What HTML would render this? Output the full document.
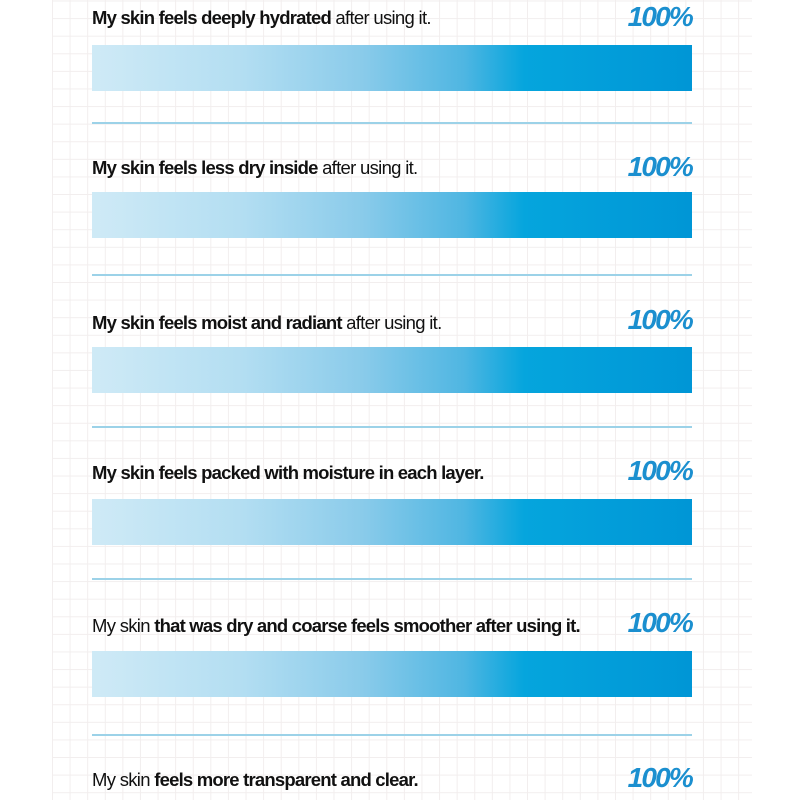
<!DOCTYPE html>
<html><head><style>
body{margin:0;width:800px;height:800px;overflow:hidden;background:#fff;font-family:"Liberation Sans",sans-serif;position:relative}
.grid{position:absolute;left:52px;top:0;width:700px;height:800px;
background-image:linear-gradient(to right,#f2eeee 1px,transparent 1px),linear-gradient(to bottom,#f2eeee 1px,transparent 1px);
background-size:17.6px 17.6px;background-position:0 0.5px}
.t{position:absolute;left:92px;font-size:18.5px;color:#111;letter-spacing:-0.7px;white-space:nowrap;font-weight:normal}
.t b{font-weight:bold;letter-spacing:-0.8px}
.p{position:absolute;left:612px;width:80px;text-align:right;font-size:28px;font-weight:bold;font-style:italic;color:#1b8fcf;letter-spacing:-1.8px}
.bar{position:absolute;left:92px;width:600px;height:46px;background:linear-gradient(to right,#cfeaf6 0%,#b3def2 25%,#8acbea 45%,#4fb6e2 62%,#05a5dd 72%,#0096d6 100%)}
.ln{position:absolute;left:92px;width:600px;height:1.5px;background:#9cd2e8;z-index:2}
</style></head><body>
<div class="grid"></div>

<div class="t" style="top:7px"><b>My skin feels deeply hydrated</b> after using it.</div>
<div class="p" style="top:1px">100%</div>
<div class="bar" style="top:45px"></div>
<div class="ln" style="top:122px"></div>

<div class="t" style="top:157px"><b>My skin feels less dry inside</b> after using it.</div>
<div class="p" style="top:151px">100%</div>
<div class="bar" style="top:192px"></div>
<div class="ln" style="top:274px"></div>

<div class="t" style="top:312px"><b>My skin feels moist and radiant</b> after using it.</div>
<div class="p" style="top:304px">100%</div>
<div class="bar" style="top:347px"></div>
<div class="ln" style="top:426px"></div>

<div class="t" style="top:462px"><b>My skin feels packed with moisture in each layer.</b></div>
<div class="p" style="top:455px">100%</div>
<div class="bar" style="top:499px"></div>
<div class="ln" style="top:578px"></div>

<div class="t" style="top:615px">My skin <b>that was dry and coarse feels smoother after using it.</b></div>
<div class="p" style="top:607px">100%</div>
<div class="bar" style="top:651px"></div>
<div class="ln" style="top:734px"></div>

<div class="t" style="top:769px">My skin <b>feels more transparent and clear.</b></div>
<div class="p" style="top:762px">100%</div>
</body></html>
